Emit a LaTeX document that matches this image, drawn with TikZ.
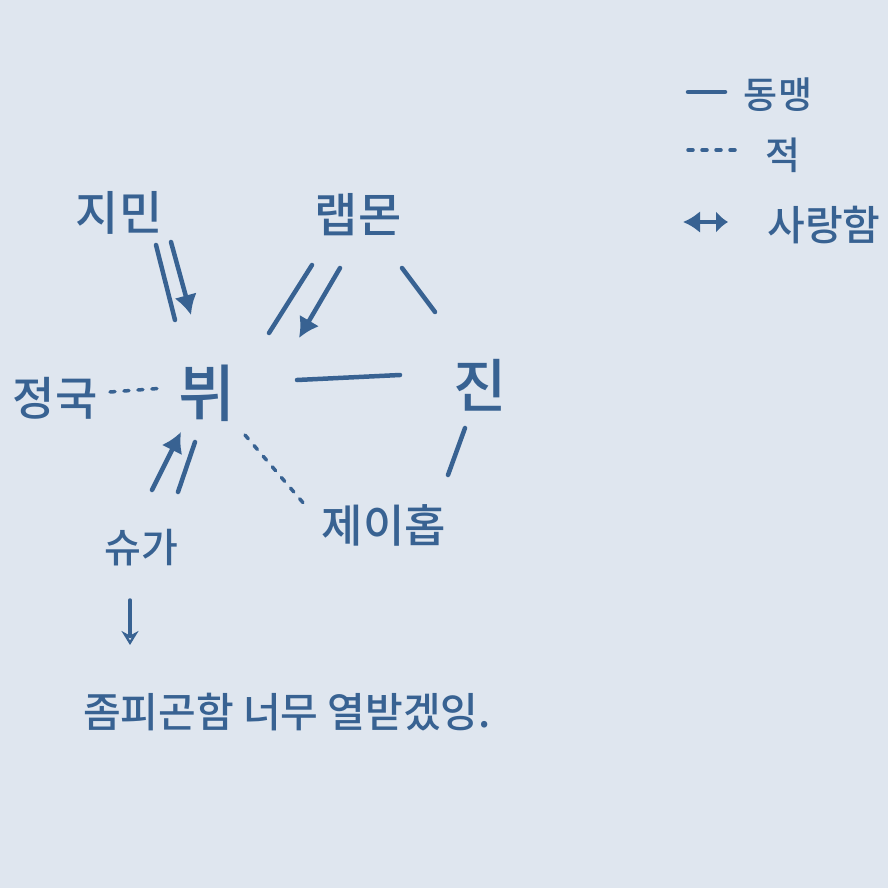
\documentclass[tikz,border=0pt]{standalone}
\usepackage{fontspec}
\usepackage{tikz}
\usetikzlibrary{positioning,arrows.meta}
\newfontfamily\hangul{Noto Sans CJK KR Medium}
\definecolor{paper}{RGB}{223,230,239}
\definecolor{ink}{RGB}{56,98,146}

\begin{document}
\begin{tikzpicture}[
    x=1pt,y=-1pt,
    member/.style={%
      text=ink,
      inner sep=0pt,
      font=\hangul\fontsize{47}{54}\selectfont,
    },
    note/.style={%
      member,
      font=\hangul\fontsize{41}{48}\selectfont,
    },
    tie/.style={%
      draw=ink,
      line width=4.5pt,
      line cap=round,
    },
    foe/.style={%
      tie,
      line width=3.5pt,
      dash pattern=on 5pt off 9pt,
    },
    crush/.style={%
      tie,
      -{Latex[length=20pt,width=23pt]},
    },
  ]

    \fill [paper] (0,0) rectangle (888,888);

    \node [member] (jimin) at (119,213) {지민};
    \node [member] (rm) at (358,215) {랩몬};
    \node [member,font=\hangul\fontsize{46}{52}\selectfont] (jk) at (55,398) {정국};
    \node [member,font=\hangul\fontsize{62}{70}\selectfont] (v) at (207,393) {뷔};
    \node [member,font=\hangul\fontsize{58}{66}\selectfont] (jin) at (480,385) {진};
    \node [member,font=\hangul\fontsize{45}{52}\selectfont] (jhope) at (384,525) {제이홉};
    \node [note,font=\hangul\fontsize{40}{46}\selectfont] (suga) at (141,548) {슈가};
    \node [note] (remark) at (287,712) {좀피곤함 너무 열받겠잉.};

    \draw [tie] ([xshift=37pt,yshift=-32pt]jimin.center) -- ([xshift=-32pt,yshift=73pt]v.center);
    \draw [crush] ([xshift=52pt,yshift=-29pt]jimin.center) -- ([xshift=-16pt,yshift=78pt]v.center);
    \draw [tie] ([xshift=62pt,yshift=60pt]v.center) -- ([xshift=-46pt,yshift=-50pt]rm.center);
    \draw [crush] ([xshift=-18pt,yshift=-53pt]rm.center) -- ([xshift=92pt,yshift=55pt]v.center);
    \draw [tie] ([xshift=44pt,yshift=-53pt]rm.center) -- ([xshift=-45pt,yshift=73pt]jin.center);
    \draw [tie] ([xshift=90pt,yshift=13pt]v.center) -- ([xshift=-80pt,yshift=10pt]jin.center);
    \draw [tie] ([xshift=-15pt,yshift=-43pt]jin.center) -- ([xshift=64pt,yshift=50pt]jhope.center);
    \draw [foe] ([xshift=38pt,yshift=-42pt]v.center) -- ([xshift=-79pt,yshift=20pt]jhope.center);
    \draw [foe] ([xshift=55pt,yshift=6pt]jk.center) -- ([xshift=-42pt,yshift=5pt]v.center);
    \draw [crush] ([xshift=11pt,yshift=58pt]suga.center) -- ([xshift=-26pt,yshift=-39pt]v.center);
    \draw [tie] ([xshift=37pt,yshift=56pt]suga.center) -- ([xshift=-12pt,yshift=-49pt]v.center);
    \draw [tie,line width=3.5pt,-{Stealth[length=14pt,width=17pt,open]}] ([xshift=-11pt,yshift=-52pt]suga.center) -- ([xshift=-157pt,yshift=67pt]remark.center);

    % legend
    \node [note,font=\hangul\fontsize{37}{44}\selectfont] (ally) at (778,95) {동맹};
    \node [note,font=\hangul\fontsize{38}{44}\selectfont] (enemy) at (783,155) {적};
    \node [note] (love) at (824,225) {사랑함};

    \draw [tie] ([xshift=-90pt,yshift=3pt]ally.center) -- ([xshift=-53pt,yshift=3pt]ally.center);
    \draw [foe] ([xshift=-95pt,yshift=5pt]enemy.center) -- ([xshift=-48pt,yshift=5pt]enemy.center);
    \draw [tie,{Latex[length=17pt,width=22pt]}-{Latex[length=12pt,width=22pt]}] ([xshift=-141pt,yshift=3pt]love.center) -- ([xshift=-96pt,yshift=3pt]love.center);
\end{tikzpicture}
\end{document}
